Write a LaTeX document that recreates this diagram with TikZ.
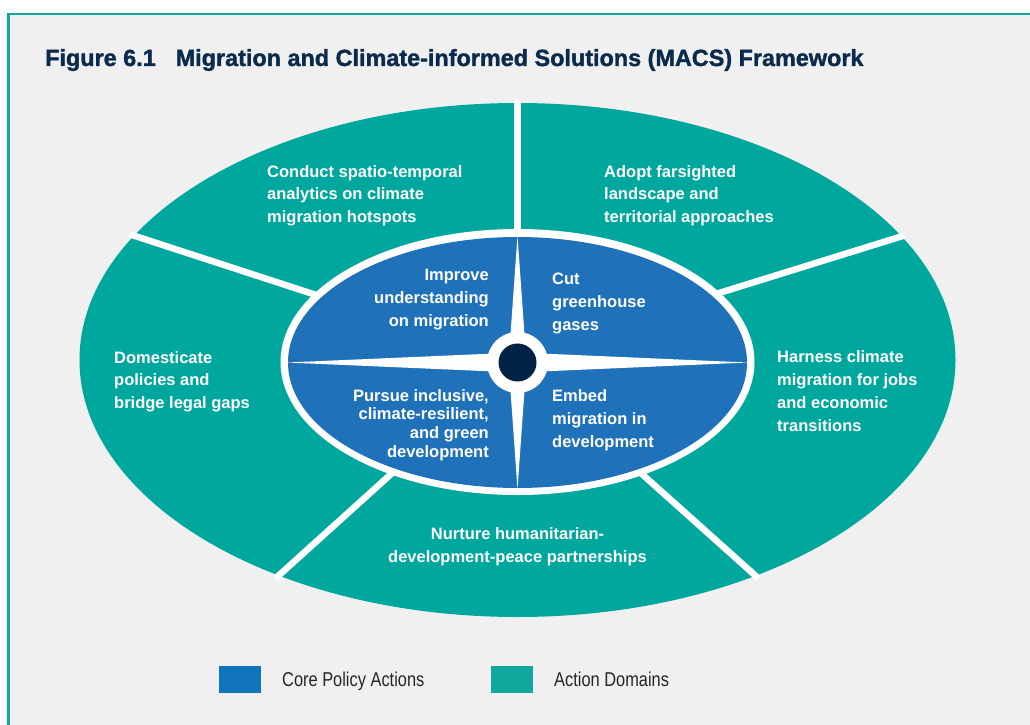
\documentclass[tikz,border=0pt]{standalone}
\usepackage{fontspec}
\setmainfont{Liberation Sans}
\newfontfamily\titlefont[BoldFeatures={FakeBold=1.5}]{Liberation Sans}
\newfontfamily\legendfont[FakeStretch=0.82]{Liberation Sans}
\definecolor{ringteal}{HTML}{00A79D}
\definecolor{legteal}{HTML}{0FA89E}
\definecolor{coreblue}{HTML}{1F72BA}
\definecolor{legblue}{HTML}{1174BC}
\definecolor{hubnavy}{HTML}{022246}
\definecolor{titlenavy}{HTML}{0A2B4C}
\definecolor{panelbg}{HTML}{F0F0F0}
\definecolor{frameteal}{HTML}{12A8A0}
\tikzset{
  lbl/.style={text=white, inner sep=0pt, font=\bfseries\fontsize{16.5}{22.7}\selectfont},
  tightlbl/.style={text=white, inner sep=0pt, font=\bfseries\fontsize{16.5}{18.6}\selectfont},
  sep/.style={draw=white, line width=6.5pt},
  legbox/.style={minimum width=42pt, minimum height=27pt, inner sep=0pt},
  legtext/.style={text=black!85, inner sep=0pt, font=\legendfont\fontsize{20}{24}\selectfont}
}
\begin{document}
\begin{tikzpicture}[x=1pt,y=-1pt]
\useasboundingbox (0,0) rectangle (1030,725);
\fill[white] (0,0) rectangle (1030,725);
\fill[panelbg] (7,13) rectangle (1030,725);
\draw[frameteal, line width=2.5pt] (8.5,725) -- (8.5,14.2) -- (1030,14.2);

% title
\node[anchor=base west, inner sep=0pt, text=titlenavy,
      font=\titlefont\bfseries\fontsize{23.4}{28}\selectfont] (title) at (45,66)
  {Figure 6.1\hspace{20pt}Migration and Climate-informed Solutions (MACS) Framework};

% outer ring of action domains
\fill[ringteal] (517.5,360) ellipse [x radius=438pt, y radius=257pt];

% separators
\coordinate (s1o) at (517.5,100);  \coordinate (s1i) at (517.5,240);
\coordinate (s2o) at (130.1,234.4); \coordinate (s2i) at (330,299.5);
\coordinate (s3o) at (904,235.6);  \coordinate (s3i) at (705,297.4);
\coordinate (s4o) at (275.5,578.4); \coordinate (s4i) at (400,466);
\coordinate (s5o) at (758.5,578.4); \coordinate (s5i) at (633,466);
\draw[sep] (s1o) -- (s1i);
\draw[sep] (s2o) -- (s2i);
\draw[sep] (s3o) -- (s3i);
\draw[sep] (s4o) -- (s4i);
\draw[sep] (s5o) -- (s5i);

% core ellipse
\fill[white] (517.5,362) ellipse [x radius=237pt, y radius=133pt];
\fill[coreblue] (517.5,362.5) ellipse [x radius=229.5pt, y radius=125.5pt];

% compass star
\coordinate (c) at (517.5,362.5);
\fill[white] (517.5,236) -- (526.5,362.5) -- (517.5,489) -- (508.5,362.5) -- cycle;
\fill[white] (287,362.5) -- (517.5,352.5) -- (748,362.5) -- (517.5,372.5) -- cycle;
\fill[white] (c) circle [radius=30.5pt];
\fill[hubnavy] (c) circle [radius=19pt];

% action domain labels (anchor = baseline of last line)
\node[lbl, anchor=base west, align=left] (d1) at (267,222.4)
  {Conduct spatio-temporal\\analytics on climate\\migration hotspots};
\node[lbl, anchor=base west, align=left] (d2) at (604,222.4)
  {Adopt farsighted\\landscape and\\territorial approaches};
\node[lbl, anchor=base west, align=left] (d3) at (777,431)
  {Harness climate\\migration for jobs\\and economic\\transitions};
\node[lbl, anchor=base west, align=left] (d4) at (114,408.4)
  {Domesticate\\policies and\\bridge legal gaps};
\node[lbl, anchor=base, align=center] (d5) at (517.5,562)
  {Nurture humanitarian-\\development-peace partnerships};

% core policy action labels
\node[lbl, anchor=base east, align=right] (p1) at (489,326)
  {Improve\\understanding\\on migration};
\node[lbl, anchor=base west, align=left] (p2) at (552,330)
  {Cut\\greenhouse\\gases};
\node[tightlbl, anchor=base east, align=right] (p3) at (489,457)
  {Pursue inclusive,\\climate-resilient,\\and green\\development};
\node[lbl, anchor=base west, align=left] (p4) at (552,447)
  {Embed\\migration in\\development};

% legend
\node[legbox, fill=legblue] (kb) at (240,679.5) {};
\node[legtext, anchor=base west] (kbt) at (282,686) {Core Policy Actions};
\node[legbox, fill=legteal] (kt) at (512,679.5) {};
\node[legtext, anchor=base west] (ktt) at (554,686) {Action Domains};
\end{tikzpicture}
\end{document}
